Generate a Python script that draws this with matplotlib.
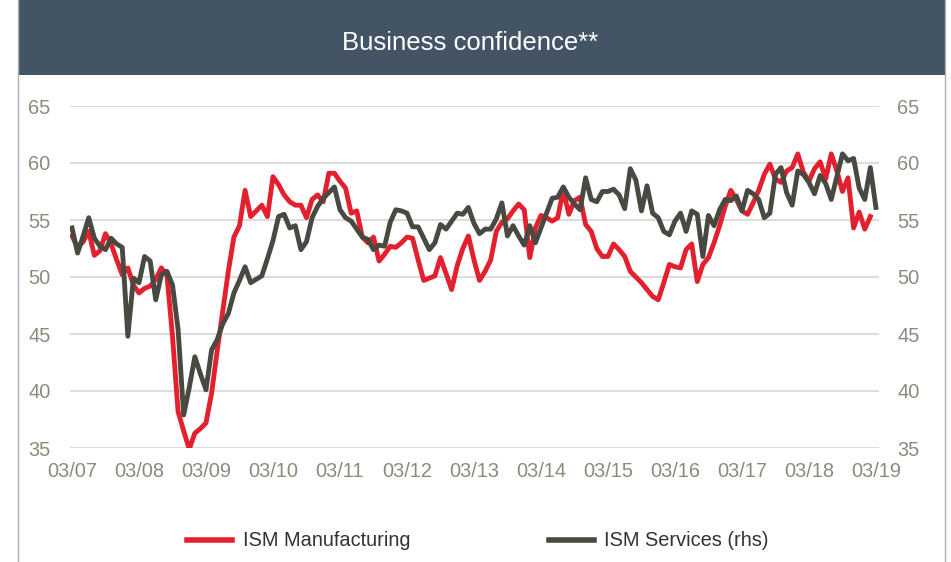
import numpy as np
import matplotlib
matplotlib.use("Agg")
import matplotlib.pyplot as plt
from matplotlib.lines import Line2D
from matplotlib.patches import Rectangle

plt.rcParams['font.family'] = ['Liberation Sans', 'DejaVu Sans']

# monthly readings, 03/2007 .. 03/2019
ism_manufacturing = [
    53.6, 52.6, 53.1, 54.0, 51.9, 52.3, 53.8, 52.9, 51.5, 50.2,
    50.8, 49.3, 48.6, 49.0, 49.2, 49.8, 50.8, 50.2, 44.8, 38.2,
    36.5, 34.9, 36.3, 36.7, 37.2, 39.8, 43.5, 47.0, 50.5, 53.5,
    54.5, 57.6, 55.3, 55.8, 56.3, 55.3, 58.8, 58.1, 57.2, 56.6,
    56.3, 56.3, 55.2, 56.8, 57.2, 56.6, 59.1, 59.1, 58.4, 57.8,
    55.6, 55.8, 53.5, 53.0, 53.5, 51.4, 52.0, 52.7, 52.6, 53.0,
    53.5, 53.4, 51.5, 49.7, 49.9, 50.1, 51.7, 50.3, 48.9, 51.0,
    52.5, 53.6, 51.5, 49.7, 50.5, 51.5, 54.0, 54.8, 55.1, 55.8,
    56.4, 55.9, 51.7, 54.3, 55.4, 55.2, 54.9, 55.2, 57.6, 55.5,
    56.7, 57.0, 54.6, 54.0, 52.5, 51.8, 51.8, 52.9, 52.4, 51.8,
    50.5, 50.0, 49.5, 48.9, 48.3, 48.0, 49.5, 51.1, 50.9, 50.8,
    52.4, 52.9, 49.6, 51.1, 51.7, 53.0, 54.5, 56.2, 57.6, 56.8,
    55.8, 55.5, 56.5, 57.6, 59.0, 59.9, 58.6, 58.3, 59.3, 59.6,
    60.8, 59.2, 58.4, 59.5, 60.1, 58.6, 60.8, 59.3, 57.5, 58.7,
    54.3, 55.7, 54.2, 55.3,
]
ism_services = [
    54.3, 52.1, 53.6, 55.2, 53.4, 52.7, 52.4, 53.4, 52.9, 52.6,
    44.8, 49.9, 49.5, 51.8, 51.4, 48.0, 50.2, 50.5, 49.3, 45.4,
    37.9, 40.3, 43.0, 41.5, 40.1, 43.6, 44.5, 45.9, 46.8, 48.6,
    49.7, 50.9, 49.5, 49.8, 50.1, 51.6, 53.2, 55.3, 55.5, 54.3,
    54.5, 52.4, 53.1, 55.2, 56.2, 56.9, 57.4, 57.9, 55.9, 55.2,
    54.9, 54.2, 53.5, 53.3, 52.4, 52.8, 52.7, 54.8, 55.9, 55.8,
    55.6, 54.4, 54.4, 53.4, 52.4, 53.0, 54.6, 54.2, 54.9, 55.6,
    55.5, 56.1, 54.7, 53.8, 54.2, 54.2, 55.1, 56.5, 53.6, 54.5,
    53.6, 52.8, 54.5, 53.0, 54.3, 55.6, 56.9, 57.0, 57.9, 57.0,
    56.4, 55.9, 58.7, 56.8, 56.6, 57.5, 57.5, 57.7, 57.2, 56.0,
    59.5, 58.5, 55.8, 58.0, 55.6, 55.2, 54.0, 53.7, 54.9, 55.6,
    54.0, 55.8, 55.5, 51.8, 55.4, 54.5, 55.9, 56.8, 56.7, 57.1,
    55.8, 57.6, 57.3, 56.8, 55.2, 55.6, 59.0, 59.6, 57.4, 56.3,
    59.3, 59.0, 58.3, 57.3, 58.9, 58.2, 56.8, 58.8, 60.8, 60.2,
    60.4, 57.8, 56.8, 59.6, 56.1,
]
tick_labels = ["03/07", "03/08", "03/09", "03/10", "03/11", "03/12", "03/13",
               "03/14", "03/15", "03/16", "03/17", "03/18", "03/19"]
y_ticks = [35, 40, 45, 50, 55, 60, 65]

RED = "#e3212e"
DARK = "#484a42"
TICK = "#8b8b7d"
BAR = "#435565"

W, H = 951, 562
fig = plt.figure(figsize=(W / 100, H / 100), dpi=100)
fig.patch.set_facecolor("white")

# title bar
fig.add_artist(Rectangle((18 / W, 1 - 75 / H), (945 - 18) / W, 75 / H,
                         transform=fig.transFigure, facecolor=BAR, edgecolor="none"))
fig.text(470 / W, 1 - 43 / H, "Business confidence**", color="white",
         fontsize=18.5, ha="center", va="center")
# frame sides
for xp in (18, 945):
    fig.add_artist(Line2D([xp / W, xp / W], [0, 1], transform=fig.transFigure,
                          color="#a9b0b8", lw=1))

left, right = 70 / W, 879 / W
bottom, top = 1 - 448 / H, 1 - 106 / H
ax = fig.add_axes([left, bottom, right - left, top - bottom])
ax2 = ax.twinx()

x = np.arange(len(ism_manufacturing))
ax.plot(x, ism_manufacturing, color=RED, lw=3.5, solid_joinstyle="round",
        label="ISM Manufacturing")
ax2.plot(np.arange(len(ism_services)), ism_services, color=DARK, lw=3.5,
         solid_joinstyle="round", label="ISM Services (rhs)")

for a in (ax, ax2):
    a.set_ylim(35, 65)
    a.set_yticks(y_ticks)
    a.set_xlim(-0.36, 144.55)
    for s in a.spines.values():
        s.set_visible(False)
    a.tick_params(length=0, labelsize=14.4, labelcolor=TICK)
ax.tick_params(axis="y", pad=14)
ax2.tick_params(axis="y", pad=13)
ax.set_xticks(np.arange(0, 145, 12))
ax.set_xticklabels(tick_labels)
ax.tick_params(axis="x", pad=10)
ax.grid(axis="y", color="#dcdcdc", lw=1.5)
ax.set_axisbelow(True)

handles = [Line2D([], [], color=RED, lw=4), Line2D([], [], color=DARK, lw=4)]
fig.legend(handles, ["ISM Manufacturing", "ISM Services (rhs)"], loc="center",
           bbox_to_anchor=(478 / W, 1 - 541 / H), ncol=2, frameon=False,
           fontsize=14.4, handlelength=2.25, handletextpad=0.55,
           columnspacing=6.9, labelcolor="#333333")

fig.savefig("out.png", dpi=100)
